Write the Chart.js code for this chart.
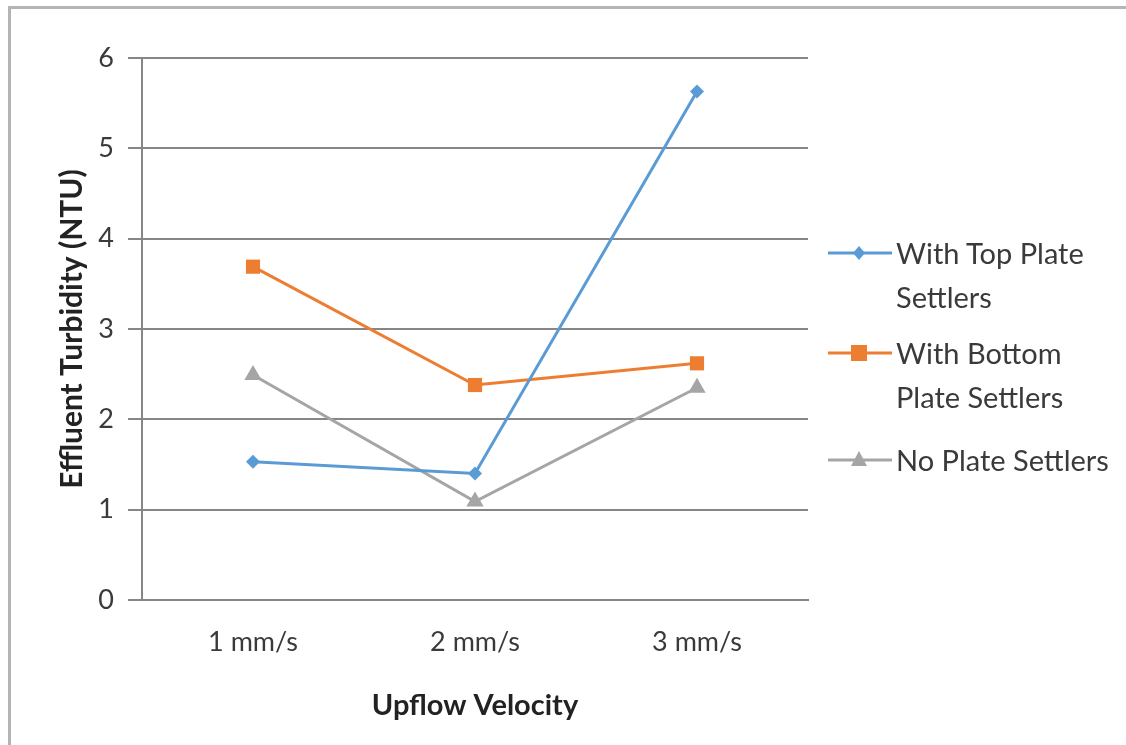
<!DOCTYPE html>
<html>
<head>
<meta charset="utf-8">
<script src="https://cdn.jsdelivr.net/npm/chart.js@4"></script>
<style>
  html, body { margin: 0; padding: 0; background: #fff; }
  #wrap { position: relative; width: 1126px; height: 745px; overflow: hidden; }
  #frame { position: absolute; left: 8px; top: 6px; right: -4px; bottom: -4px;
           border-top: 3px solid #b4b4b4; border-left: 3px solid #b4b4b4; }
  canvas { position: absolute; left: 0; top: 0; }
  #legend { position: absolute; left: 828px; top: 0; font-family: Lato, sans-serif;
            font-size: 29px; color: #3a3a3a; line-height: 44px; }
  .item { position: absolute; left: 0; white-space: nowrap; }
  .item svg { position: absolute; left: 0; }
  .item span { position: absolute; left: 68px; }
</style>
</head>
<body>
<div id="wrap">
  <div id="frame"></div>
  <canvas id="chart" width="1126" height="745"></canvas>
  <div id="legend"></div>
</div>
<script>
const categories = ['1 mm/s', '2 mm/s', '3 mm/s'];
const topPlate = [1.53, 1.40, 5.63];
const bottomPlate = [3.69, 2.38, 2.62];
const noPlate = [2.49, 1.09, 2.35];
const yTicks = [0, 1, 2, 3, 4, 5, 6];

const BLUE = '#5B9BD5', ORANGE = '#ED7D31', GRAY = '#A5A5A5';
const AXIS = '#868686';
const TEXT = '#3a3a3a';

const series = [
  { label: ['With Top Plate', 'Settlers'], data: topPlate, color: BLUE, style: 'rectRot', radius: 7 },
  { label: ['With Bottom', 'Plate Settlers'], data: bottomPlate, color: ORANGE, style: 'rect', radius: 10 },
  { label: ['No Plate Settlers'], data: noPlate, color: GRAY, style: 'triangle', radius: 10 }
];

new Chart(document.getElementById('chart'), {
  type: 'line',
  data: {
    labels: categories,
    datasets: series.map(s => ({
      label: s.label.join(' '),
      data: s.data,
      borderColor: s.color,
      backgroundColor: s.color,
      borderWidth: 3,
      pointStyle: s.style,
      pointRadius: s.radius,
      pointBorderWidth: 0,
      tension: 0
    }))
  },
  options: {
    responsive: false,
    animation: false,
    layout: { padding: { left: 54, top: 58, right: 318, bottom: 22 } },
    plugins: { legend: { display: false }, tooltip: { enabled: false } },
    scales: {
      x: {
        offset: true,
        grid: { display: false, drawTicks: false },
        border: { display: true, color: AXIS, width: 2 },
        ticks: { color: TEXT, padding: 26, font: { family: 'Lato', size: 27 } },
        title: { display: true, text: 'Upflow Velocity', color: '#222',
                 font: { family: 'Lato', size: 29, weight: 'bold' }, padding: 0 },
        afterFit: scale => { scale.height = 745 - 600 - 22; }
      },
      y: {
        min: 0, max: 6,
        afterBuildTicks: scale => { scale.ticks = yTicks.map(v => ({ value: v })); },
        grid: { color: AXIS, lineWidth: 2, tickLength: 14 },
        border: { display: true, color: AXIS, width: 2 },
        ticks: { color: TEXT, padding: 14, font: { family: 'Lato', size: 27 } },
        title: { display: true, text: 'Effluent Turbidity (NTU)', color: '#222',
                 font: { family: 'Lato', size: 30, weight: 'bold' }, padding: 0 },
        afterFit: scale => { scale.width = 142 - 54; }
      }
    }
  }
});

// legend drawn as html so the two-line labels wrap like the original
const legendTops = [231, 331, 438];
const legend = document.getElementById('legend');
series.forEach((s, i) => {
  const item = document.createElement('div');
  item.className = 'item';
  item.style.top = legendTops[i] + 'px';
  let marker;
  if (s.style === 'rectRot') marker = '<polygon points="31,15 37,22 31,29 25,22" fill="' + s.color + '"/>';
  else if (s.style === 'rect') marker = '<rect x="23" y="14" width="16" height="16" fill="' + s.color + '"/>';
  else marker = '<polygon points="31,13 39,28 23,28" fill="' + s.color + '"/>';
  item.innerHTML = '<svg width="64" height="44"><line x1="0" y1="22" x2="64" y2="22" stroke="' + s.color +
    '" stroke-width="3"/>' + marker + '</svg><span>' + s.label.join('<br>') + '</span>';
  legend.appendChild(item);
});
</script>
</body>
</html>
